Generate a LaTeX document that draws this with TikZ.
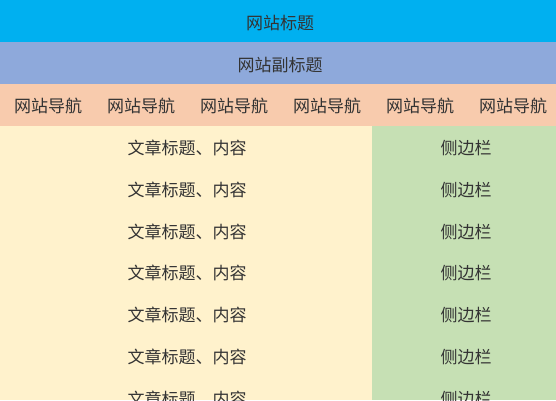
\documentclass[tikz,border=0pt]{standalone}
\usepackage{fontspec}
\newfontfamily\cjk{Noto Sans CJK SC}
\definecolor{titleblue}{HTML}{00B0F0}
\definecolor{subblue}{HTML}{8EA9DB}
\definecolor{navpeach}{HTML}{F8CBAD}
\definecolor{cream}{HTML}{FFF2CC}
\definecolor{sidegreen}{HTML}{C6E0B4}
\definecolor{txt}{HTML}{333333}
\tikzset{
  band/.style={inner sep=0pt, outer sep=0pt, anchor=north west},
  lbl/.style={font=\cjk\fontsize{17}{18}\selectfont, text=txt, inner sep=0pt},
}
\begin{document}
\begin{tikzpicture}[x=1pt,y=-1pt]
\useasboundingbox (0,0) rectangle (556,400);
\clip (0,0) rectangle (556,400);
% bands
\node[band, fill=titleblue, minimum width=556pt, minimum height=42pt] (title) at (0,0) {};
\node[band, fill=subblue, minimum width=556pt, minimum height=42pt] (sub) at (0,42) {};
\node[band, fill=navpeach, minimum width=556pt, minimum height=42pt] (nav) at (0,84) {};
\node[band, fill=cream, minimum width=372pt, minimum height=274pt] (main) at (0,126) {};
\node[band, fill=sidegreen, minimum width=184pt, minimum height=274pt] (side) at (372,126) {};
% texts
\node[lbl] (tt) at (280,23) {网站标题};
\node[lbl] (st) at (280,65) {网站副标题};
\foreach \i/\x in {1/48,2/141,3/234,4/327,5/420,6/513}
  \node[lbl] (n\i) at (\x,106) {网站导航};
\foreach \i/\y in {1/148,2/190,3/232,4/273,5/315,6/357,7/399}{
  \node[lbl] (m\i) at (187,\y) {文章标题、内容};
  \node[lbl] (s\i) at (466,\y) {侧边栏};
}
\end{tikzpicture}
\end{document}
